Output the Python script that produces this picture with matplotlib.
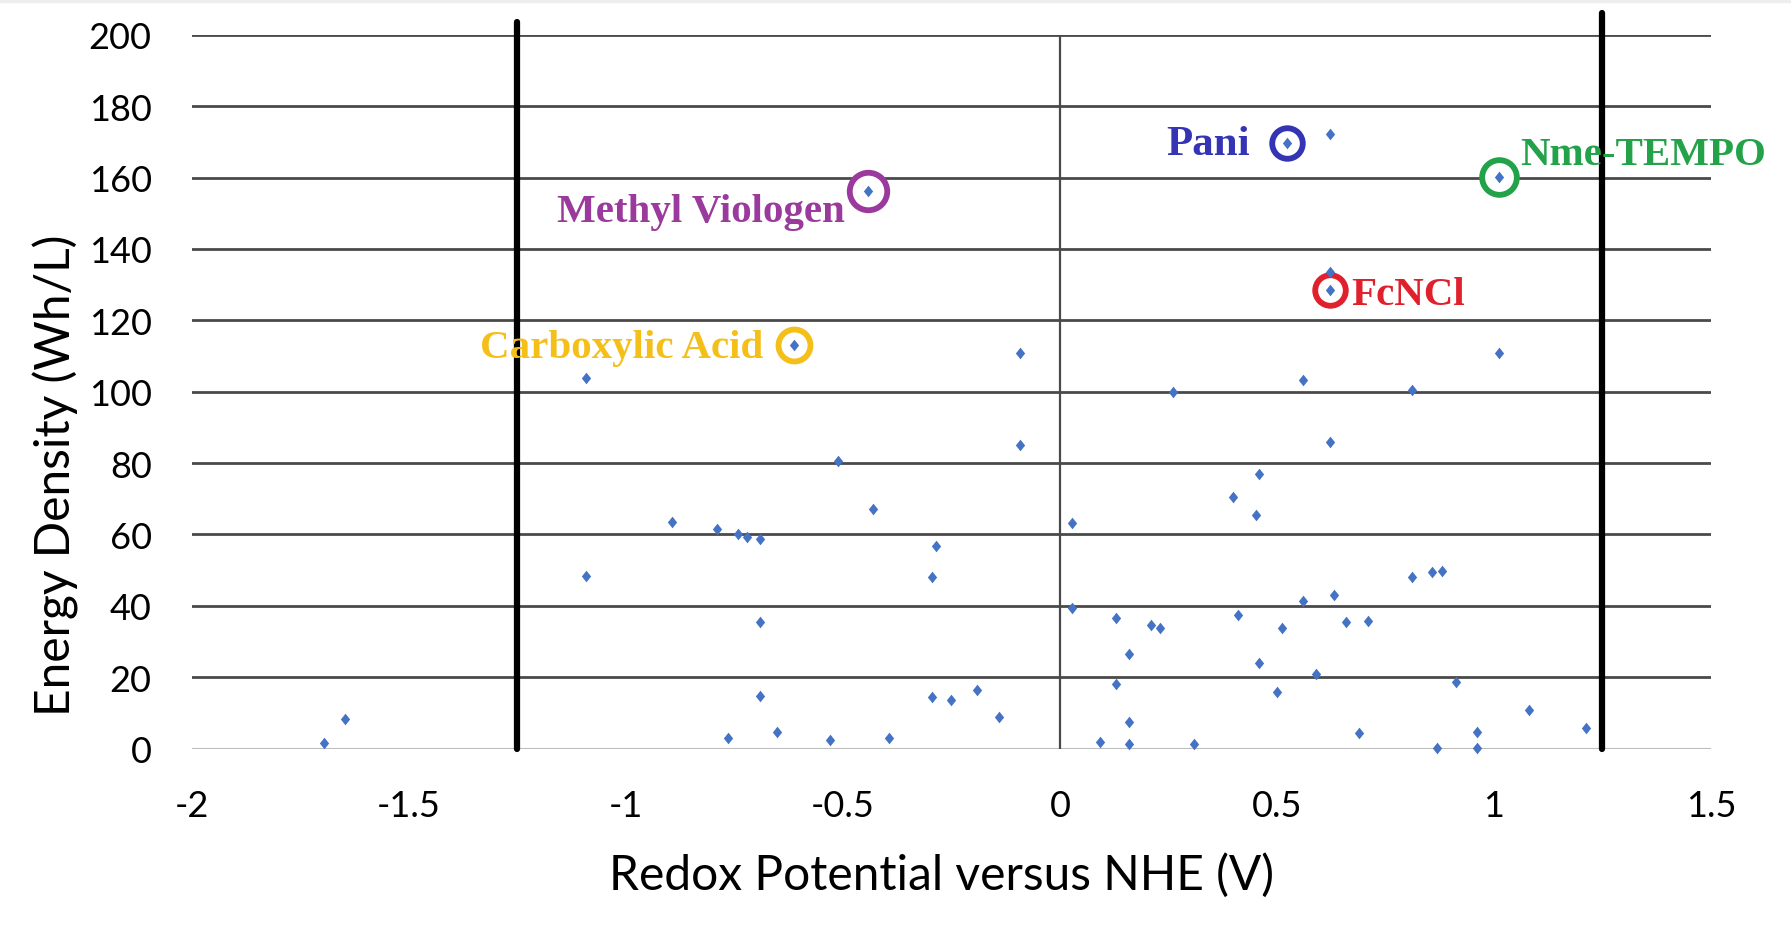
import matplotlib
matplotlib.use("Agg")
import matplotlib.pyplot as plt
from matplotlib.patches import Rectangle

# redox potential (V vs NHE) and energy density (Wh/L)
redox = [-1.695, -1.647, -1.092, -1.092, -0.893, -0.791, -0.743, -0.721, -0.692, -0.692,
         -0.692, -0.764, -0.653, -0.613, -0.531, -0.511, -0.442, -0.432, -0.394, -0.294,
         -0.294, -0.286, -0.252, -0.192, -0.141, -0.092, -0.092, 0.028, 0.028, 0.092,
         0.129, 0.129, 0.160, 0.160, 0.160, 0.209, 0.231, 0.261, 0.309, 0.399,
         0.410, 0.451, 0.458, 0.458, 0.500, 0.511, 0.522, 0.559, 0.559, 0.589,
         0.621, 0.622, 0.622, 0.622, 0.631, 0.659, 0.689, 0.710, 0.812, 0.812,
         0.858, 0.869, 0.881, 0.912, 0.961, 0.961, 1.011, 1.012, 1.081, 1.212]
energy = [1.7, 8.4, 103.8, 48.5, 63.6, 61.5, 60.1, 59.2, 58.7, 35.4,
          14.7, 2.9, 4.8, 113.1, 2.5, 80.7, 156.1, 67.1, 3.0, 48.0,
          14.4, 56.9, 13.6, 16.4, 8.8, 110.8, 85.1, 63.2, 39.3, 2.0,
          36.5, 18.1, 26.6, 7.4, 1.3, 34.7, 33.7, 99.8, 1.3, 70.4,
          37.4, 65.5, 76.9, 24.0, 15.8, 33.7, 169.7, 103.4, 41.5, 20.8,
          85.8, 172.2, 133.6, 128.5, 43.1, 35.4, 4.4, 35.9, 100.6, 48.0,
          49.4, 0.3, 49.7, 18.6, 4.8, 0.3, 160.2, 110.8, 10.9, 5.7]

# highlighted molecules
hl_names = ["Methyl Viologen", "Carboxylic Acid", "Pani", "FcNCl", "Nme-TEMPO"]
hl_x = [-0.442, -0.613, 0.522, 0.622, 1.011]
hl_y = [156.1, 113.1, 169.7, 128.5, 160.2]
hl_colors = ["#9a3a9c", "#f5bf1a", "#3434b4", "#e0202c", "#23a24a"]

# stability window of water (thick lines)
window = [-1.25, 1.25]
window_top = [203.6, 206.1]

x_ticks = [-2, -1.5, -1, -0.5, 0, 0.5, 1, 1.5]
x_ticklabels = ["-2", "-1.5", "-1", "-0.5", "0", "0.5", "1", "1.5"]
y_ticks = list(range(0, 201, 20))

fig = plt.figure(figsize=(17.91, 9.45), dpi=100)
ax = fig.add_axes([192 / 1791, 0.2067, 1519 / 1791, 0.7555])
fig.patches.append(Rectangle((0, 1 - 3 / 945), 1, 3 / 945, transform=fig.transFigure,
                             color="#eeeeee", zorder=0))

ax.set_xlim(-2, 1.5)
ax.set_ylim(0, 200)
for s in ax.spines.values():
    s.set_visible(False)

for v in y_ticks:
    ax.axhline(v, color="#bdbdbd" if v == 0 else "#4a4a4a", lw=2.0 if v else 1.5, zorder=1)
ax.plot([0, 0], [0, 200], color="#4a4a4a", lw=1.6, zorder=1)

for xv, top in zip(window, window_top):
    ax.plot([xv, xv], [0, top], color="black", lw=4.5, solid_capstyle="round",
            clip_on=False, zorder=2)

diamond = [(0, 1), (0.8, 0), (0, -1), (-0.8, 0), (0, 1)]
ax.scatter(redox, energy, marker=diamond, s=70, color="#4472c4", lw=0, zorder=4, clip_on=False)

sizes = [27, 23, 22, 22, 25]
for xv, yv, c, ms in zip(hl_x, hl_y, hl_colors, sizes):
    ax.plot(xv, yv, "o", ms=ms, mfc="white", mec=c, mew=4.2, zorder=3, clip_on=False)

serif = {"family": "Liberation Serif", "weight": "bold", "fontsize": 29.5}
ax.text(-0.496, 150.5, hl_names[0], color=hl_colors[0], ha="right", va="center", **serif)
ax.text(-0.684, 112.3, hl_names[1], color=hl_colors[1], ha="right", va="center", **serif)
ax.text(0.438, 169.3, hl_names[2], color=hl_colors[2], ha="right", va="center",
        family="Liberation Serif", weight="bold", fontsize=31)
ax.text(0.670, 127.2, hl_names[3], color=hl_colors[3], ha="left", va="center", **serif)
ax.text(1.060, 166.4, hl_names[4], color=hl_colors[4], ha="left", va="center", zorder=5,
        clip_on=False, **serif)

ax.set_xticks(x_ticks)
ax.set_xticklabels(x_ticklabels)
ax.set_yticks(y_ticks)
ax.tick_params(length=0, labelsize=26, colors="black")
ax.tick_params(axis="x", pad=29)
ax.tick_params(axis="y", pad=29)
for lab in ax.get_xticklabels() + ax.get_yticklabels():
    lab.set_family("Lato")

fig.text(941.7 / 1791, 1 - 876 / 945, "Redox Potential versus NHE (V)", family="Lato",
         fontsize=34.5, ha="center", va="center")
fig.text(56 / 1791, 1 - 475.7 / 945, "Energy Density (Wh/L)", family="Lato",
         fontsize=34.5, rotation=90, ha="center", va="center")

fig.savefig("out.png", dpi=100, facecolor="white")
